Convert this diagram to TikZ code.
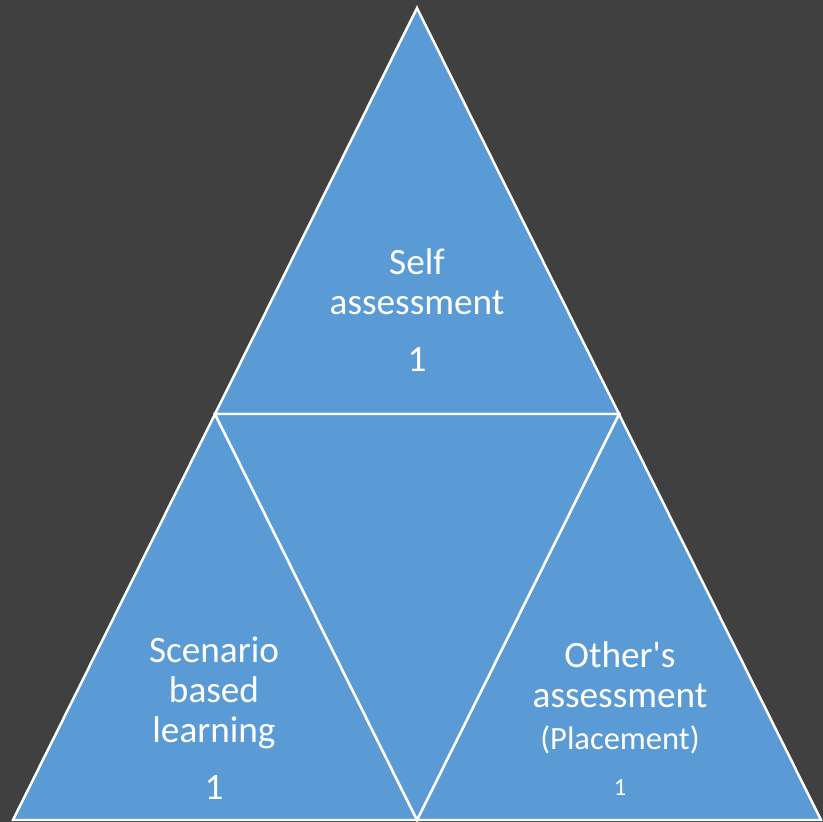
\documentclass[tikz,border=0pt]{standalone}
\usepackage{fontspec}
\setmainfont{Carlito}

\definecolor{bgdark}{HTML}{404040}
\definecolor{tileblue}{HTML}{5B9BD5}

\tikzset{
  tile/.style={fill=tileblue, draw=white, line width=1.4pt, line join=miter},
  tiletext/.style={text=white, align=center, inner sep=0pt,
    font=\fontsize{21.2}{22.7}\selectfont},
  smalltext/.style={text=white, align=center, inner sep=0pt,
    font=\fontsize{14}{16}\selectfont},
}

\begin{document}
\begin{tikzpicture}[x=0.02cm,y=-0.02cm]
  \fill[bgdark] (0,0) rectangle (823,822);
  \useasboundingbox (0,0) rectangle (823,822);

  % corners and edge midpoints
  \coordinate (apex) at (417,8);
  \coordinate (bl) at (13,820);
  \coordinate (br) at (821,820);
  \coordinate (ml) at (215,414);
  \coordinate (mr) at (619,414);
  \coordinate (mb) at (417,820);

  % four tiles
  \draw[tile] (apex) -- (mr) -- (ml) -- cycle;
  \draw[tile] (ml) -- (mb) -- (bl) -- cycle;
  \draw[tile] (mr) -- (br) -- (mb) -- cycle;
  \draw[tile] (ml) -- (mr) -- (mb) -- cycle;

  % labels
  \node[tiletext] (self) at (417,282) {Self\\assessment};
  \node[tiletext] (selfnum) at (417,360) {1};

  \node[tiletext] (scen) at (214,693) {Scenario\\based\\learning};
  \node[tiletext] (scennum) at (214,788) {1};

  \node[tiletext] (other) at (620,698)
    {Other\textquotesingle s\\assessment\\[1.5pt]{\fontsize{18.5}{20}\selectfont(Placement)}};
  \node[smalltext] (othernum) at (620,788) {1};
\end{tikzpicture}
\end{document}
